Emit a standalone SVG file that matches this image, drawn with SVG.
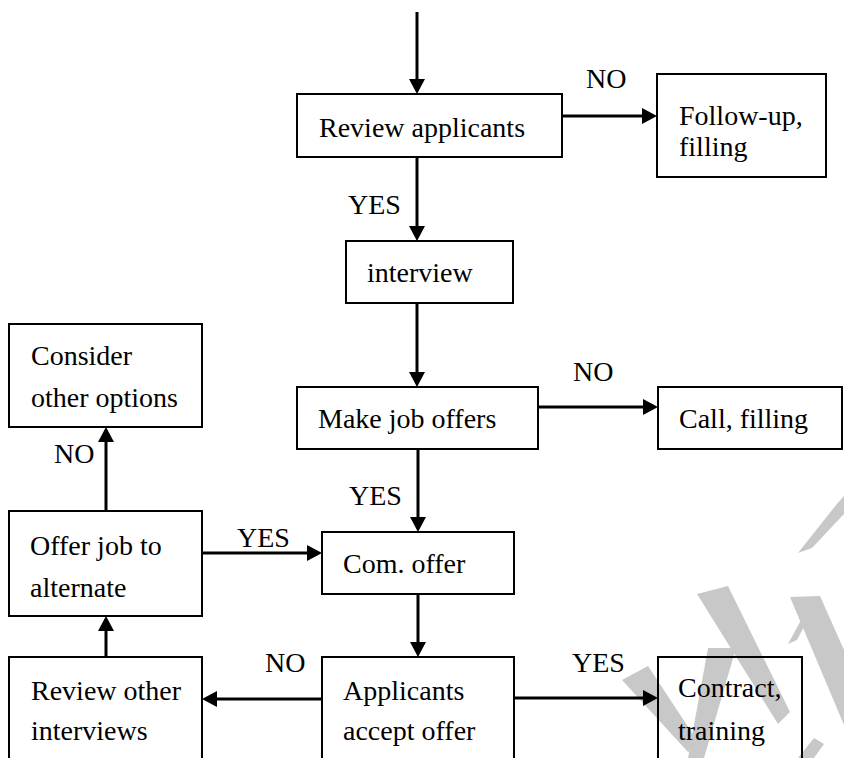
<svg xmlns="http://www.w3.org/2000/svg" width="844" height="758" viewBox="0 0 844 758">
<defs>
<style>
.box{fill:none;stroke:#000;stroke-width:2}
.t{font-family:'Liberation Serif','Times New Roman',Times,'Nimbus Roman','Nimbus Roman No9 L',FreeSerif,'Noto Serif','DejaVu Serif',Tinos,serif;font-size:28px;fill:#000}
.c{fill:none;stroke:#000;stroke-width:3;marker-end:url(#ah)}
.wm{fill:#c8c8c8}
</style>
<marker id="ah" markerUnits="userSpaceOnUse" markerWidth="15" markerHeight="16" refX="10" refY="8" orient="auto">
<path d="M0,0 L15,8 L0,16 z" fill="#000"/>
</marker>
</defs>
<rect width="844" height="758" fill="#fff"/>

<g id="watermark">
<polygon class="wm" points="836,505 844,496 844,514 812,548 798,553"/>
<polygon class="wm" points="697,594 728,586 790,712 778,724"/>
<polygon class="wm" points="790,597 820,596 844,650 844,725"/>
<polygon class="wm" points="812,600 820,596 797,640 788,644"/>
<polygon class="wm" points="622,680 648,666 700,745 688,752"/>
<polygon class="wm" points="708,648 736,648 704,758 688,758"/>
<polygon class="wm" points="798,758 814,738 824,744 814,758"/>
</g>

<g id="connectors">
<path class="c" d="M417,12 V89"/>
<path class="c" d="M562,116 H652"/>
<path class="c" d="M417,157 V236"/>
<path class="c" d="M417,303 V382"/>
<path class="c" d="M538,407 H653"/>
<path class="c" d="M418,449 V527"/>
<path class="c" d="M202,553 H317"/>
<path class="c" d="M106,511 V432"/>
<path class="c" d="M418,594 V652"/>
<path class="c" d="M322,699 H207"/>
<path class="c" d="M514,698 H653"/>
<path class="c" d="M106,657 V621"/>
<text class="t" x="586" y="88">NO</text>
<text class="t" x="348" y="214">YES</text>
<text class="t" x="573" y="381">NO</text>
<text class="t" x="349" y="505">YES</text>
<text class="t" x="237" y="547">YES</text>
<text class="t" x="54" y="463">NO</text>
<text class="t" x="265" y="672">NO</text>
<text class="t" x="572" y="672">YES</text>
</g>

<g id="review-applicants">
<rect class="box" x="297" y="94" width="265" height="63"/>
<text class="t" x="319" y="137">Review applicants</text>
</g>
<g id="follow-up">
<rect class="box" x="657" y="74" width="169" height="103"/>
<text class="t" x="679" y="125">Follow-up,</text>
<text class="t" x="679" y="156">filling</text>
</g>
<g id="interview">
<rect class="box" x="346" y="241" width="167" height="62"/>
<text class="t" x="367" y="282">interview</text>
</g>
<g id="make-job-offers">
<rect class="box" x="297" y="387" width="241" height="62"/>
<text class="t" x="318" y="428">Make job offers</text>
</g>
<g id="call-filling">
<rect class="box" x="658" y="387" width="184" height="62"/>
<text class="t" x="679" y="428">Call, filling</text>
</g>
<g id="consider">
<rect class="box" x="9" y="324" width="193" height="103"/>
<text class="t" x="31" y="365">Consider</text>
<text class="t" x="31" y="407">other options</text>
</g>
<g id="offer-alternate">
<rect class="box" x="9" y="511" width="193" height="105"/>
<text class="t" x="30" y="555">Offer job to</text>
<text class="t" x="30" y="597">alternate</text>
</g>
<g id="com-offer">
<rect class="box" x="322" y="532" width="192" height="62"/>
<text class="t" x="343" y="573">Com. offer</text>
</g>
<g id="review-other">
<rect class="box" x="9" y="657" width="193" height="130"/>
<text class="t" x="31" y="700">Review other</text>
<text class="t" x="31" y="740">interviews</text>
</g>
<g id="applicants-accept">
<rect class="box" x="322" y="657" width="192" height="130"/>
<text class="t" x="343" y="700">Applicants</text>
<text class="t" x="343" y="740">accept offer</text>
</g>
<g id="contract">
<rect class="box" x="658" y="657" width="144" height="130"/>
<text class="t" x="678" y="697">Contract,</text>
<text class="t" x="678" y="740">training</text>
</g>
</svg>
